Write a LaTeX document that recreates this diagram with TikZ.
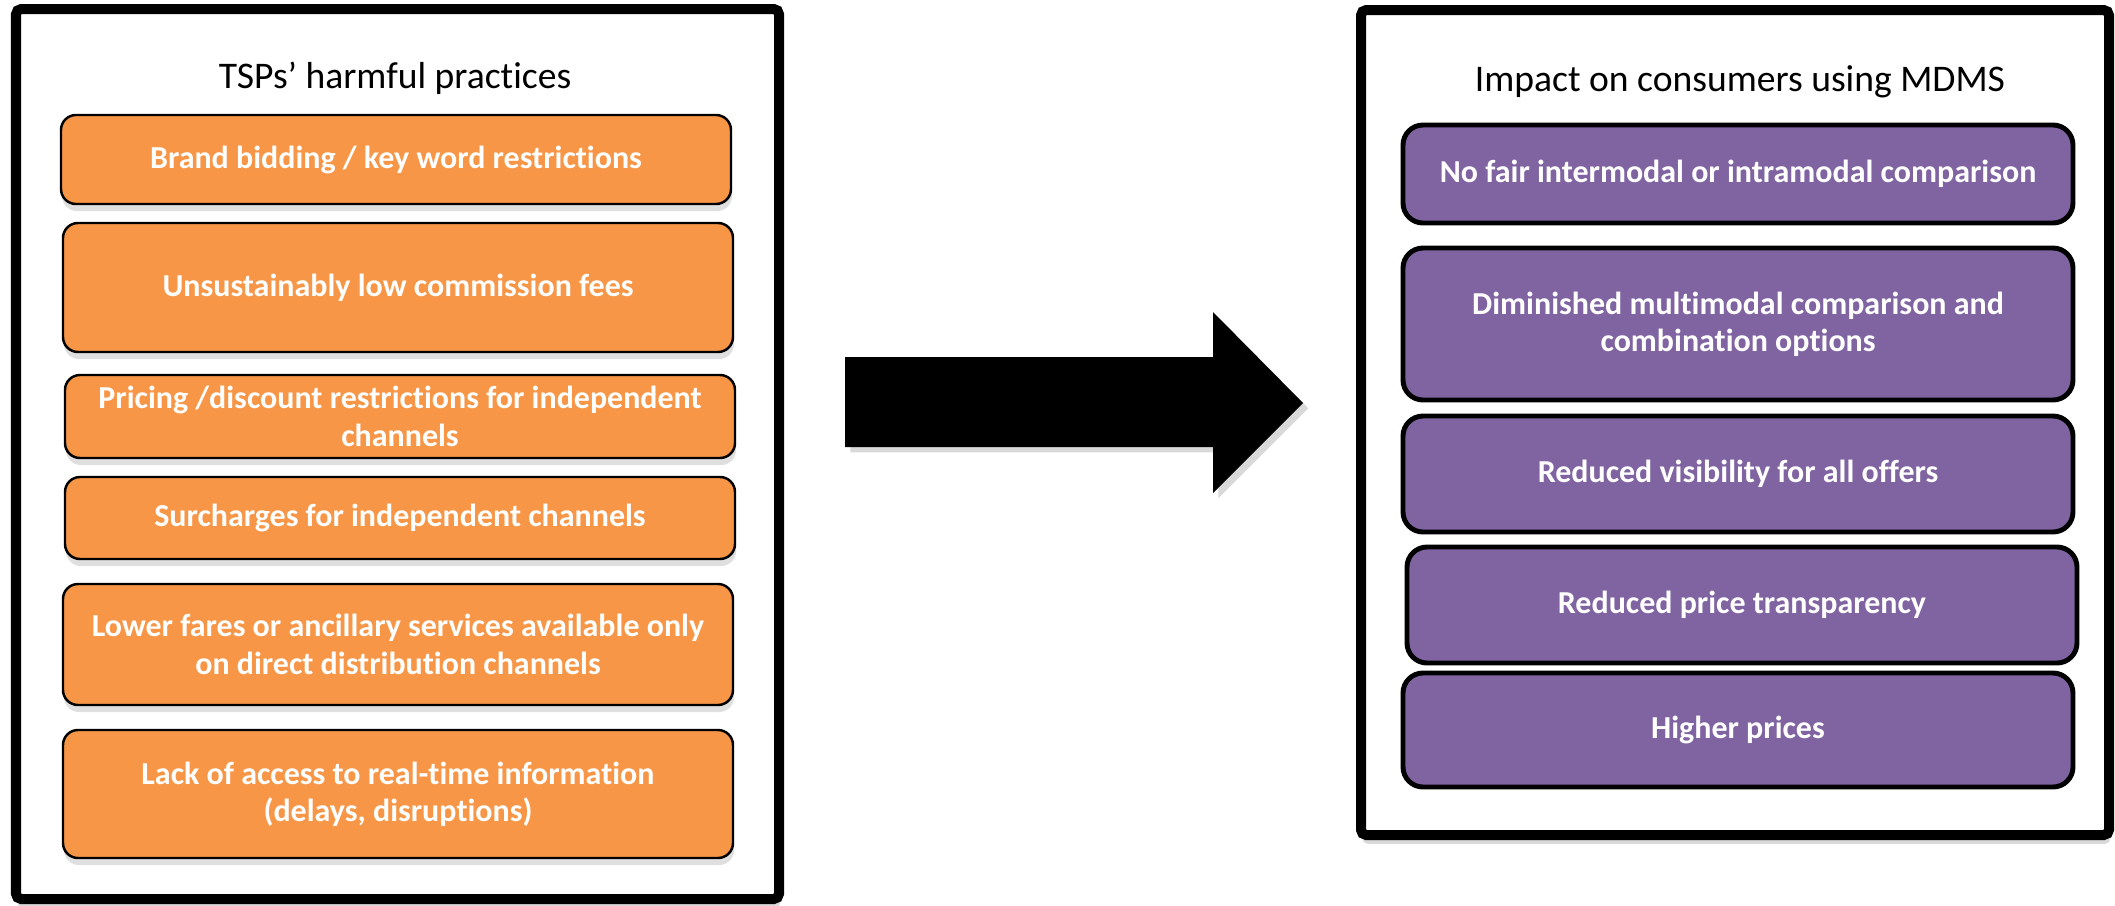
\documentclass[tikz,border=0pt]{standalone}
\usepackage{fontspec}
\setmainfont{Carlito}[Ligatures=NoCommon]
\usepackage{tikz}
\usetikzlibrary{positioning,shapes,shadows}

\definecolor{harmorange}{RGB}{247,150,70}
\definecolor{imppurple}{RGB}{128,100,162}

\begin{document}
\begin{tikzpicture}[auto, >=latex]
      \tikzstyle{frame} = [draw, rectangle, fill=white, line width=0.1cm, rounded corners=1.5pt, inner sep=0pt,
                           drop shadow={shadow xshift=0.4pt, shadow yshift=-2.5pt, opacity=0.3}]
      \tikzstyle{ttl} = [font=\fontsize{10.7}{13}\selectfont, inner sep=0pt]
      \tikzstyle{harm} = [draw, rectangle, fill=harmorange, line width=0.7pt, rounded corners=0.15cm, text=white,
                          font=\fontsize{9.1}{10.6}\selectfont\bfseries, align=center, minimum width=6.70cm, inner sep=0pt,
                          drop shadow={shadow xshift=0.3pt, shadow yshift=-2pt, opacity=0.25}]
      \tikzstyle{imp} = [draw, rectangle, fill=imppurple, line width=1.4pt, rounded corners=0.2cm, text=white,
                         font=\fontsize{9.1}{10.6}\selectfont\bfseries, align=center, minimum width=6.70cm, inner sep=0pt]
      \useasboundingbox (0, 0) rectangle (21.15, 9.05);

      % left: practices
      \node [frame, minimum width=7.63cm, minimum height=8.90cm] (lf) at (3.975, 4.51) {};
      \node [ttl] (lt) at (3.95, 8.27) {TSPs’ harmful practices};
      \node [harm, minimum height=0.89cm] (h1) at (3.96, 7.455) {Brand bidding / key word restrictions};
      \node [harm, minimum height=1.29cm] (h2) at (3.98, 6.175) {Unsustainably low commission fees};
      \node [harm, minimum height=0.83cm] (h3) at (4.00, 4.885) {Pricing /discount restrictions for independent\\ channels};
      \node [harm, minimum height=0.82cm] (h4) at (4.00, 3.87) {Surcharges for independent channels};
      \node [harm, minimum height=1.21cm] (h5) at (3.98, 2.605) {Lower fares or ancillary services available only\\ on direct distribution channels};
      \node [harm, minimum height=1.28cm] (h6) at (3.98, 1.11) {Lack of access to real-time information\\ (delays, disruptions)};

      % right: impact
      \node [frame, minimum width=7.48cm, minimum height=8.25cm] (rf) at (17.35, 4.825) {};
      \node [ttl] (rt) at (17.40, 8.23) {Impact on consumers using MDMS};
      \node [imp, minimum height=0.98cm] (i1) at (17.38, 7.31) {No fair intermodal or intramodal comparison};
      \node [imp, minimum height=1.52cm] (i2) at (17.38, 5.81) {Diminished multimodal comparison and\\ combination options};
      \node [imp, minimum height=1.16cm] (i3) at (17.38, 4.31) {Reduced visibility for all offers};
      \node [imp, minimum height=1.16cm] (i4) at (17.42, 3.00) {Reduced price transparency};
      \node [imp, minimum height=1.14cm] (i5) at (17.38, 1.75) {Higher prices};

      % big arrow
      \fill [black, drop shadow={shadow xshift=1.5pt, shadow yshift=-1.5pt, opacity=0.3}]
        (8.45, 5.48) -- (12.13, 5.48) -- (12.13, 5.93) -- (13.03, 5.02)
        -- (12.13, 4.12) -- (12.13, 4.58) -- (8.45, 4.58) -- cycle;
    \end{tikzpicture}
\end{document}
